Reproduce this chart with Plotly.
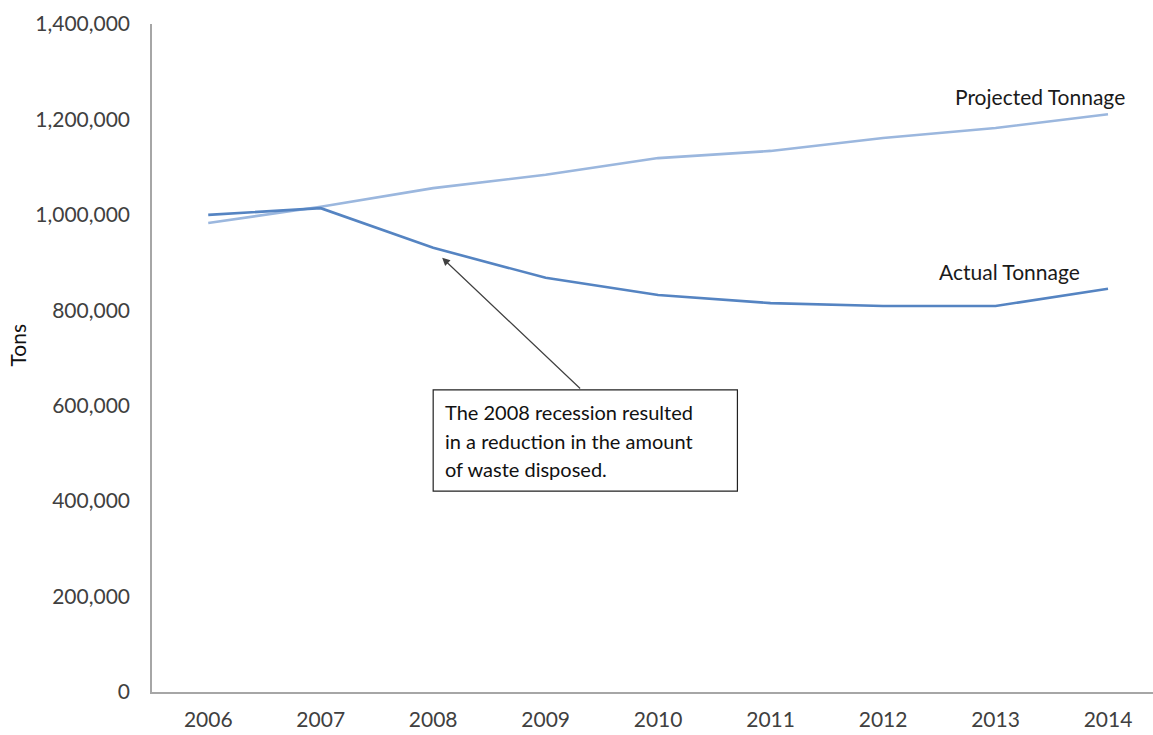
import plotly.graph_objects as go

years = ["2006", "2007", "2008", "2009", "2010", "2011", "2012", "2013", "2014"]
projected_tons = [983000, 1017000, 1056000, 1084000, 1119000, 1134000, 1161000, 1182000, 1211000]
actual_tons = [1000000, 1014000, 931000, 868000, 832000, 815000, 809000, 809000, 845000]
y_ticks = [0, 200000, 400000, 600000, 800000, 1000000, 1200000, 1400000]

FONT = "Lato"
TXT = "#404040"
SIZE = 21

fig = go.Figure()
fig.add_trace(go.Scatter(x=list(range(len(years))), y=projected_tons, mode="lines",
                         line=dict(color="#9BB7DE", width=2.6), name="Projected Tonnage",
                         showlegend=False))
fig.add_trace(go.Scatter(x=list(range(len(years))), y=actual_tons, mode="lines",
                         line=dict(color="#5584C2", width=2.6), name="Actual Tonnage",
                         showlegend=False))

# series labels at the right end of each line
fig.add_annotation(x=8, y=projected_tons[-1], text="Projected Tonnage", showarrow=False,
                   xanchor="right", yanchor="bottom", xshift=19, yshift=3,
                   font=dict(family=FONT, size=SIZE, color="#1a1a1a"))
fig.add_annotation(x=8, y=actual_tons[-1], text="Actual Tonnage", showarrow=False,
                   xanchor="right", yanchor="bottom", xshift=-26, yshift=3,
                   font=dict(family=FONT, size=SIZE, color="#1a1a1a"))

# y-axis title
fig.add_annotation(xref="paper", yref="paper", x=-0.134, y=0.52, text="Tons",
                   textangle=-90, showarrow=False, xanchor="center", yanchor="middle",
                   font=dict(family=FONT, size=SIZE, color="#111111"))

# callout arrow pointing at the 2008 drop
fig.add_annotation(x=2.08, y=910000, ax=3.32, ay=633000, axref="x", ayref="y",
                   text="", showarrow=True, arrowhead=2, arrowsize=1.3, arrowwidth=1.2,
                   arrowcolor="#404040", standoff=0)

# callout box
fig.add_shape(type="rect", x0=2.0, x1=4.705, y0=421000, y1=633000,
              line=dict(color="#222222", width=1.2), fillcolor="white")
callout_lines = ["The 2008 recession resulted", "in a reduction in the amount", "of waste disposed."]
for line, yv in zip(callout_lines, [587000, 527000, 467000]):
    fig.add_annotation(x=2.085, y=yv, text=line, showarrow=False, xanchor="left",
                       yanchor="middle", font=dict(family=FONT, size=20, color="#111111"))

fig.update_layout(
    width=1153, height=735,
    margin=dict(l=152, r=0, t=24, b=43),
    plot_bgcolor="white", paper_bgcolor="white",
    font=dict(family=FONT, size=SIZE, color=TXT),
    xaxis=dict(tickmode="array", tickvals=list(range(len(years))), ticktext=years,
               range=[-0.5, 8.4], showgrid=False, zeroline=False,
               showline=True, linecolor="#A6A6A6", linewidth=1.5, ticks="outside",
               ticklen=8, tickcolor="white",
               tickfont=dict(family=FONT, size=SIZE, color=TXT)),
    yaxis=dict(range=[0, 1400000], tickvals=y_ticks, tickformat=",d",
               showgrid=False, zeroline=False, showline=True, linecolor="#A6A6A6",
               linewidth=1.5, ticks="outside", ticklen=16, tickcolor="white",
               tickfont=dict(family=FONT, size=SIZE, color=TXT)),
)

fig.write_html("out.html")
